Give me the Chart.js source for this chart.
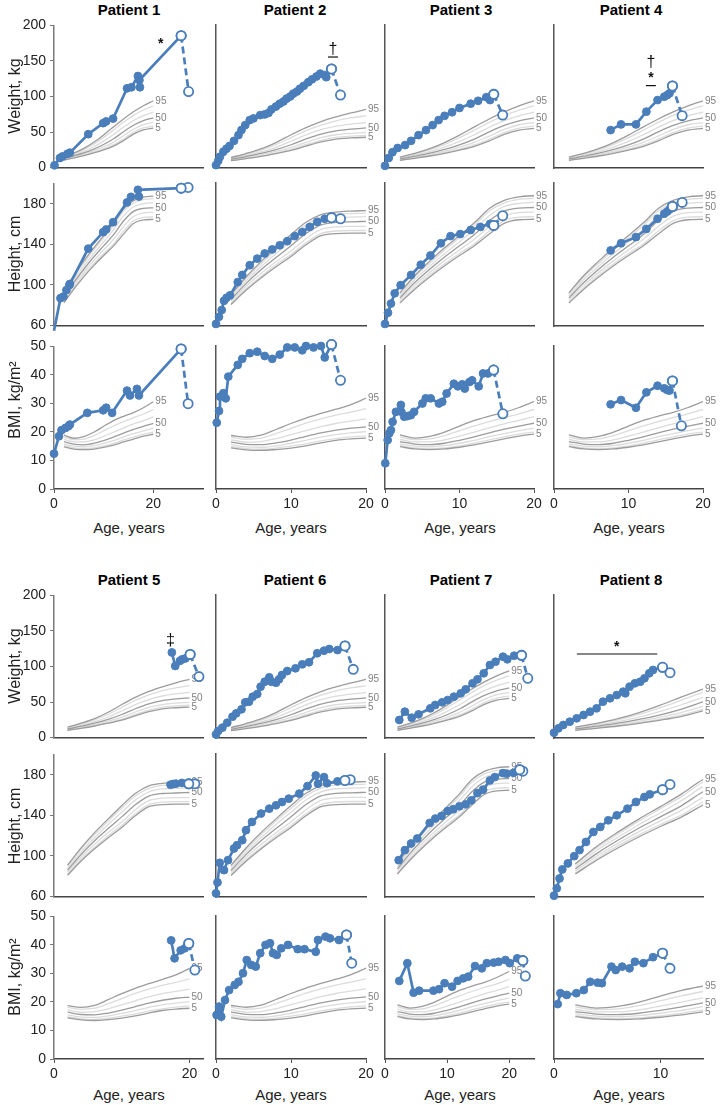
<!DOCTYPE html>
<html lang="en">
<head>
<meta charset="UTF-8">
<title>Growth charts, patients 1-8</title>
<script src="https://cdn.jsdelivr.net/npm/chart.js"></script>
<style>
  body { margin: 0; background: #fff; font-family: "Liberation Sans", Arial, sans-serif; }
  #page { position: relative; width: 722px; height: 1105px; overflow: hidden; }
  #page canvas { position: absolute; }
  .title { position: absolute; font-weight: bold; font-size: 15px; color: #000; transform: translate(-50%, -50%); white-space: nowrap; }
  .xlab { position: absolute; font-size: 15px; color: #222; transform: translate(-50%, -50%); white-space: nowrap; }
  .ylab { position: absolute; font-size: 16px; color: #222; transform: translate(-50%, -50%) rotate(-90deg); white-space: nowrap; }
</style>
</head>
<body>
<div id="page"></div>

<script>
// ---- patient data: ages (years) and values; last point of each series is the open marker,
// ---- *End is the final (dashed) point
const p1WtAge = [0.1, 1.2, 1.7, 2.7, 3.2, 6.9, 9.9, 10.5, 11.9, 14.7, 15.6, 16.9, 17.3, 17.2, 25.6];
const p1Wt = [3.2, 13.5, 15.7, 19.4, 21, 47, 62.5, 65, 69, 111.5, 113, 128.8, 113, 123, 185.6];
const p1WtEnd = [27.1, 107];
const p1HtAge = [0, 1.3, 1.9, 2.5, 3.1, 3.2, 6.9, 9.9, 10.5, 11.9, 14.7, 15.5, 17.1, 16.9, 25.6];
const p1Ht = [55, 87, 88.6, 95, 100, 101, 135.8, 152, 154.6, 161.8, 181.3, 186.8, 187, 193.7, 195.3];
const p1HtEnd = [27.0, 196];
const p1BmiAge = [0, 1, 1.5, 2.3, 2.9, 3.2, 6.7, 9.9, 10.5, 11.7, 14.7, 15.3, 16.7, 17.1, 25.6];
const p1Bmi = [12.4, 18.5, 20.6, 21.4, 22, 22.6, 26.7, 27.6, 28.5, 26.7, 34.5, 32.8, 35.1, 32.8, 49.1];
const p1BmiEnd = [27.0, 29.9];

const p2WtAge = [0, 0.3, 0.53, 0.98, 1.4, 1.8, 2.4, 3.0, 3.4, 3.9, 4.5, 5.0, 5.9, 6.5, 7.0, 7.4, 8.0, 8.5, 9.0, 9.4,
  9.9, 10.3, 10.8, 11.2, 11.7, 12.3, 12.8, 13.4, 13.9, 14.5, 14.7, 15.4];
const p2Wt = [4, 10, 15.8, 22.8, 27, 30.8, 38, 46, 53.2, 60, 67, 69.4, 74, 75, 77, 82, 86, 90, 93, 97,
  100, 104, 107, 111, 115, 120, 124, 128, 132, 130, 127, 138.5];
const p2WtEnd = [16.6, 102];
const p2HtAge = [0, 0.4, 0.76, 1.07, 1.4, 1.87, 2.9, 3.5, 4.5, 5.5, 6.5, 7.5, 8.5, 9.5, 10.5, 11.5, 12.5, 13.5, 14.5, 15.4];
const p2Ht = [62, 69, 75.6, 84.7, 87.6, 90, 103, 110, 119.5, 126, 131, 135, 139, 143, 148, 152, 157, 162, 165, 166];
const p2HtEnd = [16.6, 165];
const p2BmiAge = [0.1, 0.4, 0.53, 0.98, 1.3, 1.64, 2.9, 3.5, 4.5, 5.5, 6.5, 7.5, 8.5, 9.5, 10.5, 11.5, 12, 13, 14, 14.5, 15.4];
const p2Bmi = [23.2, 27.3, 32.3, 33.5, 31.7, 39.3, 43.4, 45.5, 47.5, 48, 46.5, 45.5, 47, 49.5, 49.5, 48.5, 50, 49.5, 50, 46, 50.5];
const p2BmiEnd = [16.6, 38];

const p3WtAge = [0, 0.5, 1, 1.7, 2.7, 3.5, 4.5, 5.5, 6.4, 7.2, 8, 9, 10, 11.5, 12.5, 13.6, 14.1, 14.6];
const p3Wt = [3, 14, 22, 28, 32, 38, 46, 53, 60, 67, 73, 78, 84, 90, 94, 99, 95, 103];
const p3WtEnd = [15.8, 74];
const p3HtAge = [0, 0.4, 0.8, 1.3, 2.1, 3.5, 4.8, 6.1, 7.5, 8.8, 10.1, 11.5, 12.8, 14.1, 14.6];
const p3Ht = [62, 73, 82, 92, 100, 110, 120, 129, 141, 148, 150, 154, 157, 160, 158.5];
const p3HtEnd = [15.8, 168];
const p3BmiAge = [0.04, 0.36, 0.58, 0.8, 1.02, 1.47, 2.13, 2.2, 2.58, 3.02, 3.47, 3.91, 5.02, 5.47, 6.13, 7.24, 7.69, 8.27, 9.24, 9.78,
  10.36, 10.71, 11.33, 11.69, 12.58, 13.16, 13.82, 14.58];
const p3Bmi = [9, 17.1, 19.5, 20.6, 23.5, 27, 29.4, 27, 25.3, 25.5, 25.8, 27, 29.9, 31.7, 31.7, 29.9, 30.5, 33.4, 36.8, 35.9,
  36.6, 35.1, 37.4, 38, 35.9, 40.4, 40.4, 41.6];
const p3BmiEnd = [15.82, 26.3];

const p4Age = [7.6, 9.0, 11.0, 12.4, 13.9, 14.8, 15.2, 15.5, 15.9];
const p4Wt = [53, 61, 61, 78.8, 95, 99.7, 102, 104.4, 114.7];
const p4WtEnd = [17.2, 73.2];
const p4Ht = [134, 141, 147, 155, 165, 170, 172, 174, 177];
const p4HtEnd = [17.2, 181];
const p4Bmi = [29.6, 31.1, 28.4, 33.8, 36.1, 35.2, 34.6, 34.4, 37.8];
const p4BmiEnd = [17.1, 22.1];

const p5WtAge = [17.4, 17.9, 18.6, 18.9, 19.4, 20.1];
const p5Wt = [119.8, 100.7, 108, 110, 111.4, 117];
const p5WtEnd = [21.4, 85.8];
const p5HtAge = [17.2, 17.6, 18.0, 18.9, 19.9];
const p5Ht = [170.2, 170.9, 171.2, 171.9, 171];
const p5HtEnd = [20.8, 171];
const p5BmiAge = [17.3, 17.8, 18.7, 19.3, 19.9];
const p5Bmi = [41.6, 35.3, 38.1, 38.8, 40.5];
const p5BmiEnd = [20.8, 31.2];

const p6WtAge = [0, 0.3, 0.85, 1.5, 2.2, 2.7, 3.4, 3.9, 4.4, 4.9, 5.5, 5.95, 6.5, 7.1, 7.4, 8, 8.4, 8.8, 9.5, 10.6,
  11.5, 12.4, 13.5, 14.4, 15.1, 16.2, 17.2];
const p6Wt = [5, 10, 14.5, 21.4, 29.8, 34.5, 40.1, 49.9, 50.8, 57.8, 61.5, 71.8, 78.7, 84.9, 78.7, 77.3, 82.1, 88.1, 93.7, 97.5,
  103, 105.9, 118.5, 122.1, 124.5, 123, 128.7];
const p6WtEnd = [18.3, 96];
const p6HtAge = [0, 0.2, 0.5, 1.07, 1.6, 2.4, 2.8, 3.5, 4, 4.8, 6, 7.1, 8, 8.8, 9.7, 11.1, 12.2, 13.3, 13.6, 14.4,
  14.8, 16.2, 17.2];
const p6Ht = [63.6, 74.3, 93.5, 86.3, 96.1, 107.5, 110.7, 115.6, 125.4, 133.5, 141.7, 146.5, 149.8, 153, 156.3, 161.2, 168.6, 179, 170.9, 177.4,
  171.4, 173.2, 174.1];
const p6HtEnd = [17.9, 174.8];
const p6BmiAge = [0.08, 0.4, 0.7, 1.2, 1.75, 2.5, 3.0, 3.6, 4.1, 4.7, 5.3, 5.9, 6.6, 7.2, 7.6, 8.1, 8.7, 9.6, 10.9, 11.8,
  13.3, 13.6, 14.6, 15.2, 16.4, 17.4];
const p6Bmi = [15.4, 18.3, 14.8, 20.6, 24.1, 25.9, 27, 30, 34.6, 32.9, 32.3, 37, 39.9, 40.5, 37, 36.4, 38.7, 39.9, 38.4, 38.4,
  37.5, 41.6, 42.8, 42.2, 41.6, 43.4];
const p6BmiEnd = [18.1, 33.5];

const p7WtAge = [2.3, 3.2, 4.3, 5.4, 7.3, 8.1, 9.2, 10.1, 11.1, 12.2, 13, 14.1, 14.9, 15.9, 16.9, 17.8, 19, 19.7, 20.8, 22];
const p7Wt = [25.2, 36.8, 28.4, 33.1, 41.5, 46.2, 49.9, 53.1, 57.8, 62.5, 68.1, 76.5, 82.1, 90.5, 102.1, 106.7, 113.7, 110, 115.1, 115.6];
const p7WtEnd = [23, 83.5];
const p7HtAge = [2.2, 3.2, 4.2, 5.2, 7.2, 8.1, 9.1, 10.1, 11, 12, 13, 13.9, 14.9, 15.8, 16.9, 17.7, 19, 19.6, 20.7, 21.7];
const p7Ht = [96.1, 105.9, 112.4, 117.3, 132.5, 136.8, 139.3, 144.2, 145.9, 148.8, 150.7, 154.6, 161.8, 165.1, 174.1, 177.4, 181.3, 180.7, 181.6, 184.6];
const p7HtEnd = [22.2, 183.2];
const p7BmiAge = [2.3, 3.6, 4.6, 5.5, 7.8, 8.7, 9.6, 10.8, 11.7, 12.6, 13.4, 14.5, 15.6, 16.4, 17.5, 18.3, 19.4, 20.1, 21.3, 22.2];
const p7Bmi = [27.3, 33.5, 23.2, 23.9, 23.9, 24.4, 26.5, 25.3, 27.3, 28.2, 28.8, 32.5, 31.7, 33.5, 33.7, 34, 34.6, 33.5, 35.2, 34.4];
const p7BmiEnd = [22.6, 29];

const p8WtAge = [0, 0.41, 0.87, 1.48, 2.13, 2.78, 3.39, 4.0, 4.6, 5.26, 5.9, 6.5, 6.7, 7.1, 7.6, 8.1, 8.5, 8.95, 9.3, 10.2];
const p8Wt = [7.4, 13.5, 18.2, 22.8, 27.5, 32.2, 36.8, 41.5, 50.8, 55.5, 60.1, 64.8, 62.5, 71.8, 76.5, 78.7, 83.5, 90.5, 95.1, 98.9];
const p8WtEnd = [10.9, 91.3];
const p8HtAge = [0, 0.26, 0.52, 0.78, 1.3, 1.9, 2.4, 3.0, 3.7, 4.35, 5.1, 5.9, 6.9, 7.7, 8.5, 9.0, 10.2];
const p8Ht = [61.3, 68.5, 78.2, 87, 92.9, 100, 105.9, 113.9, 123.7, 128.6, 135.1, 140, 146.5, 153, 157.9, 160.5, 165.1];
const p8HtEnd = [10.9, 170.2];
const p8BmiAge = [0.35, 0.6, 1.2, 2.1, 2.8, 3.4, 4.1, 4.5, 5.4, 5.8, 6.4, 7.1, 7.6, 8.4, 9.3, 10.2];
const p8Bmi = [19.2, 23, 22.4, 23, 24.1, 27, 26.7, 26.5, 32.3, 31.1, 32.3, 31.7, 34, 33.5, 35.6, 37];
const p8BmiEnd = [10.9, 31.7];

// ---- axes
const patientNames = ['Patient 1', 'Patient 2', 'Patient 3', 'Patient 4', 'Patient 5', 'Patient 6', 'Patient 7', 'Patient 8'];
const patientSex = ['m', 'f', 'm', 'm', 'f', 'f', 'm', 'm'];
const ageMax = [30, 20, 20, 20, 22, 20, 24, 14];
const ageTicks = [[0, 20], [0, 10, 20], [0, 10, 20], [0, 10, 20], [0, 20], [0, 10, 20], [0, 10, 20], [0, 10]];
const measureNames = ['Weight, kg', 'Height, cm', 'BMI, kg/m²'];
const weightTicks = [0, 50, 100, 150, 200];
const heightTicks = [60, 100, 140, 180];
const bmiTicks = [0, 10, 20, 30, 40, 50];
const measureMin = [0, 60, 0];
const measureMax = [200, 200, 50];

// ---- reference percentile curves (5,10,25,50,75,90,95) at ages 2..20
const pctAges = [2, 4, 6, 8, 10, 12, 14, 16, 18, 20];
const pctNames = ['5', '10', '25', '50', '75', '90', '95'];
const boyWeight = [
  [10.6, 13.6, 16.8, 20.6, 25.0, 30.3, 38.0, 47.0, 53.0, 55.5],
  [11.0, 14.2, 17.6, 21.7, 26.5, 32.2, 40.3, 49.5, 55.8, 58.5],
  [11.8, 15.2, 19.0, 23.6, 29.2, 35.8, 44.7, 54.0, 60.5, 63.5],
  [12.7, 16.5, 20.7, 26.0, 32.5, 40.5, 50.5, 59.5, 66.0, 70.0],
  [13.7, 17.9, 22.9, 29.3, 37.3, 46.5, 57.0, 66.3, 73.0, 78.0],
  [14.6, 19.4, 25.3, 33.0, 42.5, 53.0, 63.8, 73.5, 81.0, 87.0],
  [15.2, 20.4, 27.0, 35.6, 46.0, 57.5, 68.5, 78.5, 87.0, 94.0]];
const girlWeight = [
  [10.2, 13.1, 16.3, 20.2, 24.5, 30.5, 36.5, 40.5, 42.0, 43.0],
  [10.6, 13.7, 17.1, 21.2, 26.0, 32.6, 38.8, 42.8, 44.5, 45.5],
  [11.2, 14.7, 18.5, 23.1, 28.8, 36.0, 42.5, 46.5, 48.5, 49.5],
  [12.1, 16.0, 20.3, 25.6, 32.5, 40.6, 47.5, 52.0, 54.5, 56.0],
  [13.1, 17.5, 22.5, 29.0, 37.4, 46.4, 53.5, 58.5, 61.5, 63.5],
  [14.0, 19.0, 25.0, 32.8, 42.6, 52.3, 60.0, 66.0, 70.0, 73.0],
  [14.6, 20.2, 26.7, 35.6, 46.5, 56.5, 65.0, 71.5, 77.0, 82.0]];
const boyHeight = [
  [82.5, 96.0, 108.0, 119.0, 129.0, 138.5, 150.0, 160.5, 164.0, 164.5],
  [83.5, 97.5, 110.0, 121.0, 131.0, 140.5, 153.0, 163.0, 166.5, 167.0],
  [85.5, 100.0, 112.5, 124.0, 134.5, 145.0, 157.5, 167.5, 171.0, 171.5],
  [87.5, 102.5, 115.5, 127.5, 138.5, 149.5, 163.0, 172.5, 175.5, 176.0],
  [89.5, 105.5, 118.5, 131.0, 142.5, 154.5, 168.0, 177.0, 180.0, 181.0],
  [91.5, 108.0, 121.5, 134.5, 146.5, 158.5, 172.5, 180.5, 184.0, 185.0],
  [92.5, 109.5, 123.5, 136.5, 148.5, 161.0, 175.0, 183.0, 186.5, 187.5]];
const girlHeight = [
  [81.0, 95.0, 107.0, 118.0, 128.0, 139.5, 148.5, 150.5, 151.0, 151.0],
  [82.0, 96.5, 108.5, 120.0, 130.0, 141.5, 150.5, 153.0, 153.5, 153.5],
  [84.0, 99.0, 111.5, 123.0, 133.5, 145.5, 154.5, 157.0, 157.5, 157.5],
  [86.0, 101.5, 115.0, 127.0, 138.5, 150.5, 159.0, 161.5, 162.0, 162.5],
  [88.0, 104.0, 118.0, 131.0, 143.0, 155.0, 163.0, 166.0, 166.5, 167.0],
  [90.0, 106.5, 121.0, 134.5, 147.0, 159.0, 166.5, 169.5, 170.0, 170.5],
  [91.0, 108.0, 123.0, 136.5, 149.5, 161.5, 169.0, 171.5, 172.5, 173.0]];
const boyBmi = [
  [14.8, 14.0, 13.8, 14.0, 14.6, 15.4, 16.5, 17.5, 18.5, 19.2],
  [15.2, 14.4, 14.2, 14.4, 15.1, 16.0, 17.2, 18.2, 19.2, 19.9],
  [15.8, 15.0, 14.8, 15.2, 16.0, 17.0, 18.3, 19.4, 20.4, 21.3],
  [16.6, 15.7, 15.5, 16.0, 17.0, 18.2, 19.6, 20.9, 22.0, 23.0],
  [17.4, 16.5, 16.5, 17.2, 18.5, 19.9, 21.4, 22.8, 24.0, 25.3],
  [18.2, 17.3, 17.5, 18.7, 20.4, 22.1, 23.6, 25.0, 26.3, 27.8],
  [18.9, 17.8, 18.4, 19.9, 22.0, 24.0, 25.5, 26.8, 28.5, 30.6]];
const girlBmi = [
  [14.4, 13.7, 13.5, 13.8, 14.3, 15.1, 16.1, 17.0, 17.5, 17.8],
  [14.8, 14.1, 13.9, 14.3, 15.0, 15.8, 16.8, 17.6, 18.2, 18.6],
  [15.5, 14.7, 14.6, 15.1, 16.0, 17.0, 18.1, 19.0, 19.6, 20.1],
  [16.4, 15.6, 15.5, 16.1, 17.1, 18.4, 19.6, 20.6, 21.3, 21.7],
  [17.2, 16.4, 16.6, 17.6, 19.0, 20.4, 21.8, 22.9, 23.7, 24.5],
  [18.1, 17.4, 17.8, 19.4, 21.2, 23.0, 24.5, 25.8, 26.9, 28.1],
  [18.7, 18.1, 18.8, 20.8, 22.9, 24.8, 26.4, 27.9, 29.5, 31.8]];

// ---- weight-panel annotations (age, kg)
const p1Notes = [{x: 21.5, y: 173, text: '*'}];
const p2Notes = [{x: 15.6, y: 165, text: '†', under: true}];
const p4Notes = [{x: 13.0, y: 147, text: '†'}, {x: 13.0, y: 125, text: '*', under: true}];
const p5Notes = [{x: 17.2, y: 137, text: '‡'}];
const p8Notes = [{x: 5.9, y: 127, text: '*'}];
const p8Bracket = [2.15, 9.7, 117.5];

const series = [
  [[p1WtAge, p1Wt, p1WtEnd], [p1HtAge, p1Ht, p1HtEnd], [p1BmiAge, p1Bmi, p1BmiEnd]],
  [[p2WtAge, p2Wt, p2WtEnd], [p2HtAge, p2Ht, p2HtEnd], [p2BmiAge, p2Bmi, p2BmiEnd]],
  [[p3WtAge, p3Wt, p3WtEnd], [p3HtAge, p3Ht, p3HtEnd], [p3BmiAge, p3Bmi, p3BmiEnd]],
  [[p4Age, p4Wt, p4WtEnd], [p4Age, p4Ht, p4HtEnd], [p4Age, p4Bmi, p4BmiEnd]],
  [[p5WtAge, p5Wt, p5WtEnd], [p5HtAge, p5Ht, p5HtEnd], [p5BmiAge, p5Bmi, p5BmiEnd]],
  [[p6WtAge, p6Wt, p6WtEnd], [p6HtAge, p6Ht, p6HtEnd], [p6BmiAge, p6Bmi, p6BmiEnd]],
  [[p7WtAge, p7Wt, p7WtEnd], [p7HtAge, p7Ht, p7HtEnd], [p7BmiAge, p7Bmi, p7BmiEnd]],
  [[p8WtAge, p8Wt, p8WtEnd], [p8HtAge, p8Ht, p8HtEnd], [p8BmiAge, p8Bmi, p8BmiEnd]]
];
const notes = [p1Notes, p2Notes, [], p4Notes, p5Notes, [], [], p8Notes];
const brackets = [null, null, null, null, null, null, null, p8Bracket];
const yTicks = [weightTicks, heightTicks, bmiTicks];
const pctTables = { m: [boyWeight, boyHeight, boyBmi], f: [girlWeight, girlHeight, girlBmi] };

// ---- layout (pixels)
const FONT = '"Liberation Sans", Arial, sans-serif';
const BLUE = '#4a7ebb';
const colAxis = [54, 216, 385, 554];
const colRight = [203, 366, 534, 703];
const rowBands = [[[25, 168], [183, 326], [346, 489]], [[595, 738], [754, 897], [916, 1059]]];
const titleX = [129, 295, 461, 631];
const titleY = [9, 579];
const ylabY = [[96, 254, 400], [666, 826, 977]];
const xlabY = [527, 1094];
const xlabX = [129, 291, 460, 629];

Chart.defaults.font.family = FONT;

const page = document.getElementById('page');

function addText(cls, text, x, y) {
  const d = document.createElement('div');
  d.className = cls;
  d.textContent = text;
  d.style.left = x + 'px';
  d.style.top = y + 'px';
  page.appendChild(d);
}

// percentile names at the right end of the visible part of each curve
const pctLabels = {
  id: 'pctLabels',
  beforeDatasetsDraw(chart) {
    const ctx = chart.ctx;
    const xMax = chart.scales.x.max;
    chart.data.datasets.forEach((ds, i) => {
      if (!['95', '50', '5'].includes(ds.label)) return;
      let idx = -1;
      ds.data.forEach((p, j) => { if (p.x <= xMax + 1e-6) idx = j; });
      const el = chart.getDatasetMeta(i).data[idx];
      if (!el) return;
      ctx.save();
      ctx.font = '10px ' + FONT;
      ctx.fillStyle = '#808080';
      ctx.textBaseline = 'middle';
      ctx.fillText(ds.label, el.x + 2, el.y);
      ctx.restore();
    });
  }
};

const notePlugin = {
  id: 'notes',
  afterDatasetsDraw(chart, args, opts) {
    const ctx = chart.ctx, xs = chart.scales.x, ys = chart.scales.y;
    ctx.save();
    ctx.fillStyle = '#111';
    ctx.strokeStyle = '#111';
    ctx.lineWidth = 1.2;
    ctx.textAlign = 'center';
    ctx.textBaseline = 'middle';
    (opts.items || []).forEach(n => {
      const px = xs.getPixelForValue(n.x), py = ys.getPixelForValue(n.y);
      ctx.font = (n.text === '*' ? 'bold 14px ' : '16px ') + FONT;
      ctx.fillText(n.text, px, py);
      if (n.under) {
        ctx.beginPath();
        ctx.moveTo(px - 5, py + 7);
        ctx.lineTo(px + 5, py + 7);
        ctx.stroke();
      }
    });
    if (opts.bracket) {
      const b = opts.bracket;
      const y = ys.getPixelForValue(b[2]);
      ctx.beginPath();
      ctx.moveTo(xs.getPixelForValue(b[0]), y);
      ctx.lineTo(xs.getPixelForValue(b[1]), y);
      ctx.stroke();
    }
    ctx.restore();
  }
};

function addPanel(pi, mi) {
  const col = pi % 4, block = Math.floor(pi / 4);
  const [top, bottom] = rowBands[block][mi];
  const left = colAxis[col], right = colRight[col];
  const isBmi = mi === 2;
  const L = col === 0 ? 54 : 12, T = 12, R = 18, B = isBmi ? 26 : 12;

  const cv = document.createElement('canvas');
  cv.width = L + right - left + R;
  cv.height = T + bottom - top + B;
  cv.style.left = (left - L) + 'px';
  cv.style.top = (top - T) + 'px';
  page.appendChild(cv);

  const yMin = measureMin[mi];
  const [ages, vals, end] = series[pi][mi];
  const pts = ages.map((a, i) => ({x: a, y: vals[i]}));
  const last = pts.length - 1;

  const datasets = [];
  datasets.push({
    data: pts, showLine: true, borderColor: BLUE, borderWidth: 2.7, order: 0, clip: false,
    pointRadius: c => c.dataIndex === last ? 4.6 : (c.raw.y < yMin ? 0 : 3.9),
    pointBackgroundColor: c => c.dataIndex === last ? '#fff' : BLUE,
    pointBorderColor: BLUE,
    pointBorderWidth: c => c.dataIndex === last ? 1.8 : 1
  });
  datasets.push({
    data: [pts[last], {x: end[0], y: end[1]}], showLine: true, borderColor: BLUE, borderWidth: 2.7,
    borderDash: [7, 4], order: 1, clip: false,
    pointRadius: 4.6, pointBackgroundColor: '#fff', pointBorderColor: BLUE, pointBorderWidth: 1.8
  });
  pctTables[patientSex[pi]][mi].forEach((row, k) => {
    const dark = ['95', '50', '5'].includes(pctNames[k]);
    datasets.push({
      label: pctNames[k],
      data: pctAges.map((a, i) => ({x: a, y: row[i]})),
      showLine: true, borderColor: dark ? '#9c9c9c' : '#dcdcdc', borderWidth: 1.3,
      pointRadius: 0, cubicInterpolationMode: 'monotone', order: dark ? 2 : 3
    });
  });

  new Chart(cv, {
    type: 'scatter',
    data: { datasets },
    plugins: [pctLabels, notePlugin],
    options: {
      responsive: false,
      animation: false,
      events: [],
      layout: { padding: { left: 0, top: T, right: R, bottom: 0 }, autoPadding: false },
      plugins: {
        legend: { display: false },
        tooltip: { enabled: false },
        notes: { items: mi === 0 ? notes[pi] : [], bracket: mi === 0 ? brackets[pi] : null }
      },
      scales: {
        x: {
          type: 'linear', min: 0, max: ageMax[pi],
          afterFit: s => { s.height = B; },
          afterBuildTicks: s => { s.ticks = ageTicks[pi].map(v => ({value: v})); },
          grid: { drawOnChartArea: false, drawTicks: isBmi, tickLength: 4, color: '#555' },
          border: { color: '#444', width: 1.5 },
          ticks: { display: isBmi, color: '#222', font: { size: 14 }, padding: 3, maxRotation: 0 }
        },
        y: {
          type: 'linear', min: yMin, max: measureMax[mi],
          afterFit: s => { s.width = L; },
          afterBuildTicks: s => { s.ticks = yTicks[mi].map(v => ({value: v})); },
          grid: { drawOnChartArea: false, drawTicks: col === 0, tickLength: 4, color: '#777' },
          border: { color: col === 0 ? '#7a7a7a' : '#555', width: 1.5 },
          ticks: { display: col === 0, color: '#222', font: { size: 14 }, padding: 4 }
        }
      }
    }
  });
}

for (let pi = 0; pi < 8; pi++) {
  const col = pi % 4, block = Math.floor(pi / 4);
  addText('title', patientNames[pi], titleX[col], titleY[block]);
  addText('xlab', 'Age, years', xlabX[col], xlabY[block]);
  for (let mi = 0; mi < 3; mi++) addPanel(pi, mi);
}
for (let block = 0; block < 2; block++) {
  for (let mi = 0; mi < 3; mi++) addText('ylab', measureNames[mi], 15, ylabY[block][mi]);
}
</script>
</body>
</html>
